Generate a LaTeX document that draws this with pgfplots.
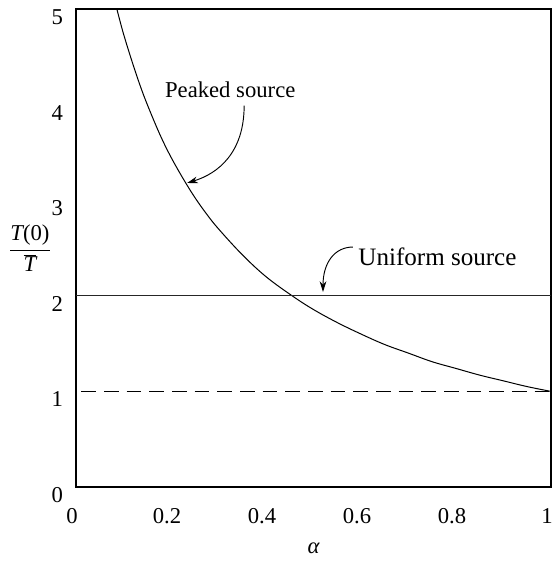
\documentclass[border=0pt]{standalone}
\usepackage{pgfplots}
\pgfplotsset{compat=1.18}
\usetikzlibrary{arrows.meta}
\usepackage{fontspec}
\setmainfont{Liberation Serif}

\begin{document}
\fontsize{17}{20}\selectfont
\begin{tikzpicture}
\begin{axis}[
    scale only axis,
    width=356.25pt, height=358.5pt,
    xmin=0, xmax=1, ymin=0, ymax=5,
    xtick={0,0.2,0.4,0.6,0.8,1},
    ytick={0,1,2,3,4,5},
    major tick length=0pt,
    axis line style={line width=1pt},
    /pgf/number format/assume math mode=true,
    tick label style={font=\fontsize{17}{20}\selectfont},
    xticklabel style={yshift=-10pt, xshift=-3pt},
    yticklabel style={xshift=-4pt, yshift=-6pt},
    xlabel={\itshape α},
    xlabel style={font=\fontsize{17}{20}\selectfont, yshift=-3pt},
    ylabel={$\displaystyle\frac{\textit{T}\textup{(0)}}{\overline{\textit{T}}}$},
    ylabel style={rotate=-90, at={(axis description cs:0,0.5)}, anchor=center, xshift=-34.5pt, font=\fontsize{17}{20}\selectfont},
    clip=true,
]
% peaked source
\addplot[black, line width=0.75pt, smooth, tension=0.6] coordinates {
 (0.086,5.00) (0.100,4.74) (0.120,4.42) (0.140,4.13) (0.160,3.88)
 (0.180,3.65) (0.200,3.45) (0.225,3.23) (0.250,3.03) (0.275,2.855)
 (0.300,2.70) (0.350,2.43) (0.400,2.20) (0.455,2.00) (0.500,1.856)
 (0.550,1.72) (0.600,1.60) (0.650,1.49) (0.700,1.40) (0.750,1.31)
 (0.800,1.24) (0.850,1.17) (0.900,1.11) (0.950,1.05) (1.000,1.00)
};
% uniform source
\addplot[black!85, line width=0.95pt] coordinates {(0,2) (1,2)};
% reference level
\addplot[black, line width=0.75pt, dash pattern=on 11pt off 6pt, dash phase=-4pt] coordinates {(0,1) (1,1)};

\node[anchor=base west, inner sep=0pt] at (axis cs:0.187,4.07) {Peaked source};
\draw[line width=0.7pt, -{Stealth[length=8pt,width=5pt]}]
  (axis cs:0.354,3.99) .. controls (axis cs:0.354,3.5) and (axis cs:0.30,3.28) .. (axis cs:0.234,3.18);
\node[anchor=base west, inner sep=0pt, font=\fontsize{18.8}{22}\selectfont] at (axis cs:0.594,2.32) {Uniform source};
\draw[line width=0.7pt, -{Stealth[length=8pt,width=5pt]}]
  (axis cs:0.583,2.51) .. controls (axis cs:0.545,2.51) and (axis cs:0.52,2.35) .. (axis cs:0.52,2.04);

\coordinate (bl) at (rel axis cs:0,0);
\coordinate (tr) at (rel axis cs:1,1);
\end{axis}
\pgfresetboundingbox
\path ([xshift=-57pt,yshift=-58.5pt]bl) rectangle ([xshift=0.75pt,yshift=6.75pt]tr);
\end{tikzpicture}
\end{document}
